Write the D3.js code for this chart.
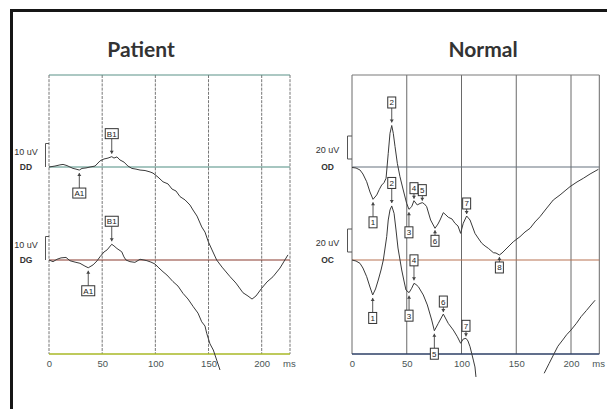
<!DOCTYPE html>
<html><head><meta charset="utf-8">
<script src="https://cdn.jsdelivr.net/npm/d3@7"></script>
<style>body{margin:0;background:#fff}svg{display:block}</style>
</head><body>
<svg id="c" width="607" height="409"></svg>
<script>
// ---------- data ----------
const titles = ["Patient", "Normal"];
const msTicks = [0, 50, 100, 150, 200];
const tickUnit = "ms";
const patientChannels = ["DD", "DG"];
const normalChannels = ["OD", "OC"];
const patientScaleLabel = "10 uV";
const normalScaleLabel = "20 uV";
const patientScaleUV = 10;
const normalScaleUV = 20;

// [ms, uV]
const patientOD = [[0,0],[5.6,0.4],[10.3,0.9],[13.2,1.1],[16.9,0.6],[19.7,0],[22.6,-0.6],[25.4,-0.9],[28.5,-1.3],[31,-0.6],[34.8,-0.4],[38.6,0],[43.3,0.4],[48,2.6],[51.7,3.4],[55.5,3.8],[59,4.4],[61.1,3.8],[63.9,4.3],[66.7,3],[70.5,2.1],[74.2,0.4],[78,-0.6],[81.8,-0.9],[85.6,-1.3],[90.3,-1.5],[95,-2.1],[97.8,-2.6],[102.5,-4.3],[107.2,-6.3],[111.9,-7.2],[115.7,-9.4],[119.4,-10.2],[123.2,-12.6],[127.9,-14],[132.6,-16.2],[135.4,-18.3],[139.2,-20.9],[143.6,-25.5],[146.7,-27.7],[149.8,-31.8],[153.3,-35.3],[157.7,-39.6],[162.7,-42.6],[170.3,-46.7],[175.8,-49.4],[182.4,-53.5],[187.1,-54.9],[190.9,-56.2],[194.6,-54.9],[200,-51.6],[205,-48.9],[210.6,-46.7],[217.2,-43],[224.7,-37.4]];
const patientDG = [[0,0],[3.8,-0.7],[7.5,0.3],[11.3,0.9],[16,1.1],[19.7,-0.3],[24.5,-0.9],[29.1,-1.4],[33.8,-2.6],[36.9,-3.3],[41.4,-2.1],[45.1,-0.4],[48,1.4],[51.7,3.4],[54.6,4.3],[59,6.7],[61.1,6],[63.9,4.9],[68.4,3.5],[70.5,1.3],[72.4,0],[76.1,-0.7],[80.8,-1],[85.6,0.3],[89.3,0],[92.1,-0.3],[95.9,-0.9],[99.6,-1.7],[103.4,-3.4],[107.2,-5],[110.9,-6.4],[116.6,-9.2],[121.3,-11.1],[126,-14.2],[130.7,-16.6],[135.7,-19.9],[140.1,-22.6],[143.6,-26.3],[146.7,-28.1],[148.3,-31.2],[151.4,-35.7],[154.5,-38.3],[157.7,-42.6],[160.8,-46.8]];
const normalOD = [[0,-0.4],[3.7,-0.9],[7.3,-2.6],[10,-6.1],[13.4,-12.8],[16.4,-21.7],[19.2,-28.1],[22.6,-24.3],[25,-19.4],[27.1,-15.7],[29.2,-13.7],[31.1,-9.8],[33.1,11.9],[34.7,29.3],[36.3,36.1],[37.7,29.3],[39.3,17.7],[41.4,3.2],[43.8,-8.4],[46.8,-20],[49.9,-31.6],[52,-36.8],[54.5,-34.5],[56.6,-29.3],[59.6,-33],[62.1,-31.7],[64.2,-31],[66.2,-32.2],[68.2,-34.5],[71.8,-46.1],[75.8,-53.3],[78.5,-49.6],[80.4,-46.1],[83.4,-39.7],[85.8,-41.7],[87.9,-43.7],[91.3,-45.2],[94,-48.9],[96.8,-51.3],[99.2,-57.7],[101.6,-48.9],[104.7,-42.6],[107.8,-46.1],[112.3,-57.7],[115.1,-61.7],[118.5,-66.3],[121.5,-68.7],[124.5,-70.7],[129.1,-74.5],[131.5,-74.8],[134.6,-76.5],[137,-74.8],[139.7,-72.2],[143.4,-68.7],[147.3,-65],[153.4,-60.6],[158,-56.5],[162.6,-53.3],[167.1,-47.8],[171.7,-43.2],[177.2,-36.5],[183.8,-28.7],[190,-24.3],[195.4,-20],[199.1,-17.1],[205.5,-13],[211.3,-9.8],[217.4,-6.1],[225,-2]];
const normalOC = [[0,0],[3.7,-0.9],[7.3,-2.9],[10,-7],[13.4,-14.5],[16.4,-23.5],[18.9,-30.4],[21.5,-25.2],[24,-17.4],[26.5,-8.7],[28.6,0],[31.7,20.3],[33.1,34.8],[34.7,43.5],[36.3,47],[38.4,40.6],[40.2,26.1],[42,10.4],[45.4,-8.7],[47.5,-18.3],[49.3,-26.1],[52.1,-28.4],[54.5,-24.6],[56.6,-20.3],[58.4,-21.3],[60.6,-23.2],[65.1,-30.4],[68.8,-39.1],[72.8,-52.2],[75.2,-61.5],[78.8,-55.1],[83.4,-47],[87.9,-55.1],[92.5,-60.9],[96.2,-66.7],[99.2,-72.4],[101.6,-68.7],[104.1,-68.1],[105.9,-70.4],[107.8,-75.4],[110.8,-87],[112.3,-93],[113.2,-101.7],
  [140,null],
  [175.5,-98.5],[180,-90],[184.7,-81.2],[188,-75],[192.4,-69.6],[196,-65],[200,-60.9],[205,-55],[209.2,-49.3],[214,-44],[218.3,-39.1],[222,-35],[226,-31.9]];

// peak labels: [label, ms, side, arrow length]
const patientODPeaks = [["A1",28.5,"below","long"],["B1",59,"above","long"]];
const patientDGPeaks = [["A1",36.9,"below","long"],["B1",59,"above","long"]];
const normalODPeaks = [["1",19.2,"below","long"],["2",36.3,"above","long"],["3",52,"below","long"],["4",56.6,"above","short"],["5",64.2,"above","short"],["6",75.8,"below","short"],["7",104.7,"above","short"],["8",134.6,"below","short"]];
const normalOCPeaks = [["1",18.9,"below","long"],["2",36.3,"above","long"],["3",52.1,"below","long"],["4",56.6,"above","long"],["5",75.2,"below","long"],["6",83.4,"above","short"],["7",104.1,"above","short"]];

// ---------- layout / style ----------
const svg = d3.select("#c");
const FONT = "'Liberation Sans', Arial, sans-serif";
svg.append("rect").attr("width",607).attr("height",409).attr("fill","#fff");
svg.append("rect").attr("x",11.5).attr("y",10.5).attr("width",640).attr("height",440)
  .attr("fill","none").attr("stroke","#161616").attr("stroke-width",3);

const panels = [
  {title:titles[0], titleX:141, x0:49, x200:261.7, xEnd:290, scaleUV:patientScaleUV, scaleLabel:patientScaleLabel,
   pxPerUV:2.35, topColor:"#5b9188", gridColor:"#777", gridDash:"3,1.2", bottomColor:"#a9b826",
   boxW:13, boxH:10, labelX:26, bracket:"left",
   traces:[{ch:patientChannels[0], base:167, data:patientOD, peaks:patientODPeaks, baseColor:"#4e8d82"},
           {ch:patientChannels[1], base:260, data:patientDG, peaks:patientDGPeaks, baseColor:"#8a3b2f"}]},
  {title:titles[1], titleX:483, x0:352, x200:571, xEnd:599.3, scaleUV:normalScaleUV, scaleLabel:normalScaleLabel,
   pxPerUV:1.15, topColor:"#7a7a7a", gridColor:"#6a6a6a", gridDash:null, bottomColor:"#2d3f66",
   boxW:8, boxH:11, labelX:327.5, bracket:"right",
   traces:[{ch:normalChannels[0], base:167, data:normalOD, peaks:normalODPeaks, baseColor:"#66727e"},
           {ch:normalChannels[1], base:260, data:normalOC, peaks:normalOCPeaks, baseColor:"#b77352"}]}
];
const TOP = 75, BOTTOM = 354;

function interp(data, ms){
  const pts = data.filter(d=>d[1]!==null);
  for(let i=0;i<pts.length-1;i++){
    const a=pts[i], b=pts[i+1];
    if(ms>=a[0] && ms<=b[0]){ const t=(ms-a[0])/(b[0]-a[0]); return a[1]+t*(b[1]-a[1]); }
  }
  return pts[pts.length-1][1];
}

panels.forEach(p=>{
  const g = svg.append("g");
  const x = d3.scaleLinear().domain([0,200]).range([p.x0,p.x200]);
  const xMax = x.invert(p.xEnd);

  // title
  g.append("text").attr("x",p.titleX).attr("y",57).attr("text-anchor","middle")
    .attr("font-family","Lato, 'Open Sans', sans-serif").attr("font-weight","bold")
    .attr("font-size",21).attr("fill","#333").text(p.title);

  // vertical grid lines (ticks) + right edge
  const vlines = msTicks.map(t=>x(t)).concat([p.xEnd]);
  g.selectAll(".v").data(vlines).join("line")
    .attr("x1",d=>d).attr("x2",d=>d).attr("y1",TOP).attr("y2",BOTTOM)
    .attr("stroke",p.gridColor).attr("stroke-width",1)
    .attr("stroke-dasharray",p.gridDash);
  // top line
  g.append("line").attr("x1",p.x0).attr("x2",p.xEnd).attr("y1",TOP).attr("y2",TOP)
    .attr("stroke",p.topColor).attr("stroke-width",1.2);

  // baselines
  p.traces.forEach(tr=>{
    g.append("line").attr("x1",p.x0).attr("x2",p.xEnd).attr("y1",tr.base).attr("y2",tr.base)
      .attr("stroke",tr.baseColor).attr("stroke-width",1.2);
  });

  // bottom axis
  const axis = d3.axisBottom(x).tickValues(msTicks).tickSize(0).tickPadding(6).tickFormat(d3.format("d"));
  const ag = g.append("g").attr("transform",`translate(0,${BOTTOM})`).call(axis);
  ag.select(".domain").remove();
  ag.selectAll("text").attr("font-family",FONT).attr("font-size",9.5).attr("fill","#4a5555");
  g.append("line").attr("x1",p.x0).attr("x2",p.xEnd).attr("y1",BOTTOM).attr("y2",BOTTOM)
    .attr("stroke",p.bottomColor).attr("stroke-width",1.5);
  g.append("text").attr("x",p.xEnd-7).attr("y",BOTTOM+12.5).attr("font-family",FONT)
    .attr("font-size",9.5).attr("fill","#4a5555").text(tickUnit);

  // traces
  p.traces.forEach(tr=>{
    const y = d3.scaleLinear().domain([0,p.scaleUV]).range([tr.base, tr.base - p.scaleUV*p.pxPerUV]);
    const line = d3.line().defined(d=>d[1]!==null).x(d=>x(d[0])).y(d=>y(d[1]));
    g.append("path").datum(tr.data.filter(d=>d[0]<=xMax)).attr("d",line)
      .attr("fill","none").attr("stroke","#3a3a3a").attr("stroke-width",1).attr("stroke-linejoin","round");

    // scale bracket
    let top, bot;
    if(p.bracket==="left"){ top = y(p.scaleUV); bot = tr.base;
      g.append("path").attr("d",`M${p.x0},${top}H${p.x0-3.5}V${bot}`).attr("fill","none")
        .attr("stroke","#555").attr("stroke-width",1);
    } else { bot = tr.base-8; top = bot - p.scaleUV*p.pxPerUV;
      g.append("path").attr("d",`M${p.x0},${top}H${p.x0-4.5}V${bot}H${p.x0}`).attr("fill","none")
        .attr("stroke","#555").attr("stroke-width",1);
    }
    g.append("text").attr("x",p.labelX).attr("y",(p.bracket==="left"?tr.base-12:tr.base-14.5))
      .attr("text-anchor","middle").attr("font-family",FONT).attr("font-size",9)
      .attr("fill","#333").text(p.scaleLabel);
    g.append("text").attr("x",p.labelX).attr("y",tr.base+2.5)
      .attr("text-anchor","middle").attr("font-family",FONT).attr("font-size",8.5)
      .attr("font-weight","bold").attr("fill","#333").text(tr.ch);

    // peak labels
    tr.peaks.forEach(([lab, ms, side, len])=>{
      const px = x(ms), py = y(interp(tr.data, ms));
      const off = len==="long" ? 23 : 12.5, gap = len==="long" ? 3 : 2;
      const s = side==="above" ? -1 : 1;
      const cy = py + s*off;
      const edge = cy - s*p.boxH/2;
      const tip = py + s*gap;
      g.append("line").attr("x1",px).attr("x2",px).attr("y1",edge).attr("y2",tip)
        .attr("stroke","#444").attr("stroke-width",0.9);
      g.append("path").attr("d",`M${px-2},${tip+s*3}L${px+2},${tip+s*3}L${px},${tip}Z`).attr("fill","#444");
      g.append("rect").attr("x",px-p.boxW/2).attr("y",cy-p.boxH/2).attr("width",p.boxW).attr("height",p.boxH)
        .attr("fill","#fff").attr("stroke","#333").attr("stroke-width",1);
      g.append("text").attr("x",px).attr("y",cy+3).attr("text-anchor","middle")
        .attr("font-family",FONT).attr("font-size",8).attr("fill","#222").text(lab);
    });
  });
});
</script>
</body></html>
